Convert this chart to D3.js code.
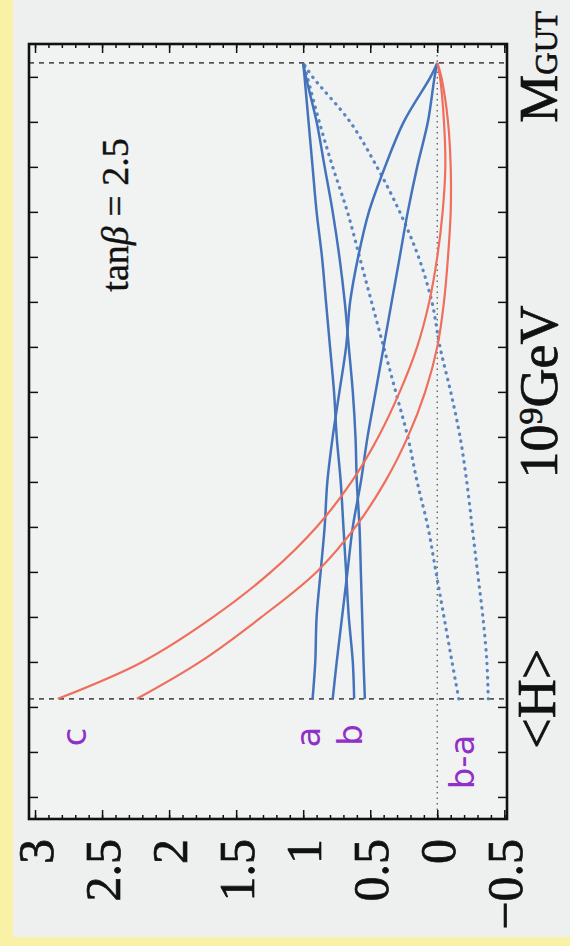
<!DOCTYPE html>
<html>
<head>
<meta charset="utf-8">
<script src="https://cdn.jsdelivr.net/npm/d3@7"></script>
<style>
body { margin: 0; background: #f8f1a6; }
svg { display: block; }
</style>
</head>
<body>
<div id="chart"></div>
<script>
// log10(mu / GeV) where the curves were read, from <H> up to M_GUT
var logScale = [2.18, 3, 4, 5, 6, 7, 8, 9, 10, 11, 12, 13, 14, 15, 16, 16.31];

// first boundary condition (a=0, b=1 at M_GUT)
var a1  = [0.78, 0.75, 0.71, 0.67, 0.63, 0.57, 0.52, 0.46, 0.40, 0.34, 0.28, 0.22, 0.15, 0.07, 0.02, 0];
var b1  = [0.62, 0.63, 0.66, 0.68, 0.70, 0.72, 0.75, 0.77, 0.80, 0.83, 0.86, 0.90, 0.93, 0.96, 0.99, 1.00];
var ba1 = [-0.16, -0.11, -0.05, 0.01, 0.07, 0.15, 0.22, 0.31, 0.40, 0.49, 0.58, 0.67, 0.78, 0.88, 0.97, 1.00];
var c1  = [2.83, 2.20, 1.67, 1.24, 0.90, 0.64, 0.44, 0.28, 0.15, 0.06, 0.00, -0.04, -0.06, -0.05, -0.02, 0];

// second boundary condition
var a2  = [0.93, 0.91, 0.90, 0.87, 0.84, 0.82, 0.78, 0.73, 0.68, 0.65, 0.59, 0.51, 0.39, 0.25, 0.05, 0];
var b2  = [0.54, 0.55, 0.56, 0.57, 0.58, 0.60, 0.61, 0.63, 0.66, 0.69, 0.73, 0.78, 0.84, 0.90, 0.98, 1.00];
var ba2 = [-0.38, -0.37, -0.34, -0.30, -0.26, -0.22, -0.17, -0.10, -0.02, 0.04, 0.14, 0.28, 0.45, 0.65, 0.93, 1.00];
var c2  = [2.24, 1.77, 1.31, 0.90, 0.61, 0.39, 0.22, 0.09, 0.00, -0.05, -0.08, -0.10, -0.10, -0.08, -0.03, 0];

var valueTicks = [-0.5, 0, 0.5, 1, 1.5, 2, 2.5, 3];
var decadeTicks = [0, 1, 2, 3, 4, 5, 6, 7, 8, 9, 10, 11, 12, 13, 14, 15, 16];
var scaleMarks = [2.18, 9, 16.31];   // <H>, 10^9 GeV, M_GUT

var W = 570, H = 946;
var svg = d3.select("#chart").append("svg")
    .attr("width", W)
    .attr("height", H);

// scanned page
svg.append("rect")
    .attr("x", 13).attr("y", 0)
    .attr("width", W - 13).attr("height", 937)
    .attr("fill", "#eef0f0");

var x = d3.scaleLinear().domain([3.045, -0.52]).range([29, 507]);
var y = d3.scaleLinear().domain([-0.49, 16.73]).range([819, 44]);

svg.append("rect")
    .attr("x", x(3.045)).attr("y", y(16.73))
    .attr("width", x(-0.52) - x(3.045))
    .attr("height", y(-0.49) - y(16.73))
    .attr("fill", "#f1f3f3");

// reference lines
svg.selectAll(".hline")
    .data([scaleMarks[0], scaleMarks[2]])
    .enter().append("line")
    .attr("x1", x(3.045)).attr("x2", x(-0.52))
    .attr("y1", function(d) { return y(d); })
    .attr("y2", function(d) { return y(d); })
    .attr("stroke", "#555")
    .attr("stroke-width", 1.6)
    .attr("stroke-dasharray", "5,5");

svg.append("line")
    .attr("x1", x(0)).attr("x2", x(0))
    .attr("y1", y(16.73)).attr("y2", y(-0.49))
    .attr("stroke", "#666")
    .attr("stroke-width", 1.4)
    .attr("stroke-dasharray", "1.5,4");

function series(vals) {
    return vals.map(function(v, i) { return { t: logScale[i], v: v }; });
}

var line = d3.line()
    .x(function(d) { return x(d.v); })
    .y(function(d) { return y(d.t); })
    .curve(d3.curveCatmullRom.alpha(0.5));

var blue = "#4473bb", red = "#ef6e5c";

[ba1, ba2].forEach(function(s) {
    svg.append("path")
        .datum(series(s))
        .attr("fill", "none")
        .attr("stroke", "#5a85c3")
        .attr("stroke-width", 3.2)
        .attr("stroke-linecap", "round")
        .attr("stroke-dasharray", "0.5,6.5")
        .attr("d", line);
});

[a1, b1, a2, b2].forEach(function(s) {
    svg.append("path")
        .datum(series(s))
        .attr("fill", "none")
        .attr("stroke", blue)
        .attr("stroke-width", 2.5)
        .attr("d", line);
});

[c1, c2].forEach(function(s) {
    svg.append("path")
        .datum(series(s))
        .attr("fill", "none")
        .attr("stroke", red)
        .attr("stroke-width", 2.2)
        .attr("d", line);
});

// frame + ticks
var minor = d3.range(-0.5, 3.01, 0.1);
function tickAxis(axis, tr) {
    var g = svg.append("g").attr("transform", tr).call(axis);
    g.select(".domain").remove();
    g.selectAll("line").attr("stroke", "#111").attr("stroke-width", 1.5);
    return g;
}
tickAxis(d3.axisBottom(x).tickValues(minor).tickSize(-4).tickFormat(""), "translate(0," + y(-0.49) + ")");
tickAxis(d3.axisTop(x).tickValues(minor).tickSize(-4).tickFormat(""), "translate(0," + y(16.73) + ")");
tickAxis(d3.axisTop(x).tickValues(valueTicks).tickSize(-9).tickFormat(""), "translate(0," + y(16.73) + ")");
tickAxis(d3.axisLeft(y).tickValues(decadeTicks).tickSize(-9).tickFormat(""), "translate(" + x(3.045) + ",0)");
tickAxis(d3.axisRight(y).tickValues(decadeTicks).tickSize(-9).tickFormat(""), "translate(" + x(-0.52) + ",0)");

var bottom = tickAxis(d3.axisBottom(x).tickValues(valueTicks).tickSize(-9).tickFormat(d3.format("~g")),
    "translate(0," + y(-0.49) + ")");
bottom.selectAll("text")
    .attr("transform", "rotate(-90)")
    .attr("x", -20).attr("y", 0)
    .attr("dy", "0.35em")
    .attr("text-anchor", "end")
    .attr("fill", "#111")
    .attr("stroke", "#111")
    .attr("stroke-width", 0.7)
    .style("font-family", "'Liberation Serif', serif")
    .style("font-size", "50px");

svg.append("rect")
    .attr("x", x(3.045)).attr("y", y(16.73))
    .attr("width", x(-0.52) - x(3.045))
    .attr("height", y(-0.49) - y(16.73))
    .attr("fill", "none")
    .attr("stroke", "#111")
    .attr("stroke-width", 2.6);

// scale labels on the right
function vlabel(cx, cy, size) {
    return svg.append("text")
        .attr("transform", "translate(" + cx + "," + cy + ") rotate(-90)")
        .attr("text-anchor", "middle")
        .attr("fill", "#111")
        .attr("stroke", "#111")
        .attr("stroke-width", 0.7)
        .style("font-family", "'Liberation Serif', serif")
        .style("font-size", size + "px");
}
var lg = vlabel(557, y(scaleMarks[2]) + 4, 54);
lg.append("tspan").text("M");
lg.append("tspan").style("font-size", "31px").text("GUT");

var l9 = vlabel(557, y(scaleMarks[1]), 54);
l9.append("tspan").text("10");
l9.append("tspan").attr("dy", "-0.45em").style("font-size", "34px").text("9");
l9.append("tspan").attr("dy", "0.28em").text("GeV");

vlabel(555, y(scaleMarks[0]), 54).text("<H>");

var tb = vlabel(128, 215, 38).attr("stroke-width", 0.4);
tb.append("tspan").text("tan");
tb.append("tspan").style("font-style", "italic").text("β");
tb.append("tspan").text(" = 2.5");

// hand-written marks
var hand = [
    { text: "c", cx: 86, cy: 737 },
    { text: "a", cx: 320, cy: 737 },
    { text: "b", cx: 362, cy: 735 },
    { text: "b-a", cx: 474, cy: 762 }
];
svg.selectAll(".hand")
    .data(hand)
    .enter().append("text")
    .attr("transform", function(d) { return "translate(" + d.cx + "," + d.cy + ") rotate(-90)"; })
    .attr("text-anchor", "middle")
    .attr("fill", "#9030c8")
    .style("font-family", "'DejaVu Sans', sans-serif")
    .style("font-size", "34px")
    .text(function(d) { return d.text; });
</script>
</body>
</html>
